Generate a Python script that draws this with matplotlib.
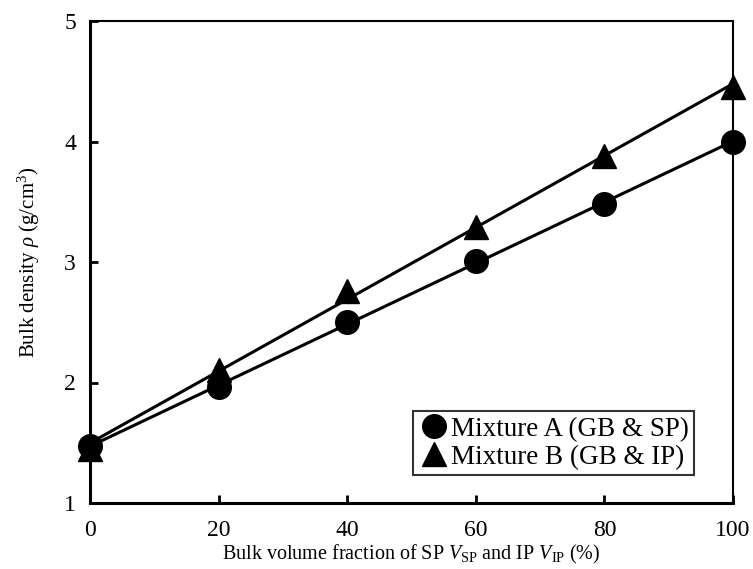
import numpy as np
import matplotlib.pyplot as plt

plt.rcParams['font.family'] = ['Liberation Serif', 'DejaVu Serif']
plt.rcParams['mathtext.fontset'] = 'custom'
plt.rcParams['mathtext.rm'] = 'Liberation Serif'
plt.rcParams['mathtext.it'] = 'Liberation Serif:italic'

# 数据
x = [0, 20, 40, 60, 80, 100]
rho_a = [1.47, 1.96, 2.50, 3.01, 3.48, 4.00]
rho_b = [1.45, 2.10, 2.76, 3.29, 3.88, 4.45]

fig = plt.figure(figsize=(7.53, 5.69), dpi=100)
ax = fig.add_axes([90 / 753, 1 - 503 / 569, 643 / 753, 482 / 569])

# 拟合直线
xx = np.array([0, 100])
for ys in (rho_a, rho_b):
    k, b = np.polyfit(x, ys, 1)
    ax.plot(xx, k * xx + b, color='black', lw=2.2, zorder=2, clip_on=False)

ax.plot(x, rho_a, 'o', color='black', ms=17, label='Mixture A (GB & SP)', zorder=3, clip_on=False)
ax.plot(x, rho_b, '^', color='black', ms=17, label='Mixture B (GB & IP)', zorder=3, clip_on=False)

ax.set_xlim(0, 100)
ax.set_ylim(1, 5)
ax.set_xticks([0, 20, 40, 60, 80, 100])
ax.set_yticks([1, 2, 3, 4, 5])
ax.tick_params(direction='in', length=6, width=2, labelsize=17)
ax.tick_params(axis='x', pad=12)
ax.tick_params(axis='y', pad=10)
for side in ('left', 'bottom'):
    ax.spines[side].set_linewidth(2.2)
for side in ('top', 'right'):
    ax.spines[side].set_linewidth(1.5)

ax.set_xlabel(r'Bulk volume fraction of SP $V_{\mathrm{SP}}$ and IP $V_{\mathrm{IP}}$ (%)', fontsize=14.5, labelpad=2)
ax.set_ylabel(r'Bulk density $\rho$ (g/cm$^3$)', fontsize=15, labelpad=16)

leg = ax.legend(loc='lower right', bbox_to_anchor=(0.94, 0.058), borderaxespad=0, fontsize=19.5,
                frameon=True, fancybox=False, edgecolor='black', handletextpad=0.1, borderpad=0.2,
                labelspacing=0.1, handlelength=1.1, markerscale=1.0)
leg.get_frame().set_linewidth(1.5)

plt.savefig('out.png', dpi=100)
